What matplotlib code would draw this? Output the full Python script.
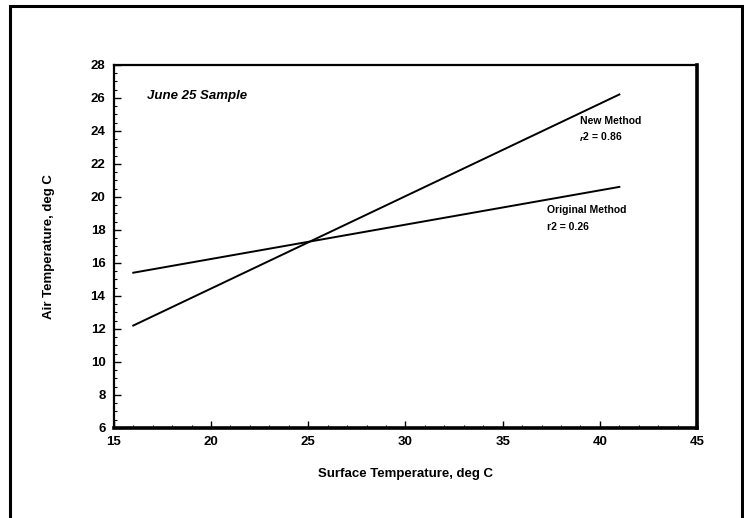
import numpy as np
import matplotlib.pyplot as plt
from matplotlib.patches import Rectangle
from matplotlib.ticker import MultipleLocator

plt.rcParams['font.family'] = ['Liberation Sans', 'DejaVu Sans']
plt.rcParams['font.weight'] = 'bold'

# fitted regression lines (end points)
surface_x = [16, 41]
new_method = [12.2, 26.2]
original_method = [15.4, 20.6]

xticks = [15, 20, 25, 30, 35, 40, 45]
yticks = [6, 8, 10, 12, 14, 16, 18, 20, 22, 24, 26, 28]

fig = plt.figure(figsize=(7.44, 5.18), dpi=100)
ax = fig.add_axes([0.153, 0.174, 0.784, 0.701])

ax.plot(surface_x, new_method, color='black', lw=1.4)
ax.plot(surface_x, original_method, color='black', lw=1.4)

ax.set_xlim(15, 45)
ax.set_ylim(6, 28)
ax.set_xticks(xticks)
ax.set_yticks(yticks)
ax.xaxis.set_minor_locator(MultipleLocator(1))
ax.yaxis.set_minor_locator(MultipleLocator(0.5))
ax.tick_params(which='major', direction='in', length=5, width=1, labelsize=9.5, pad=6)
ax.tick_params(which='minor', direction='in', length=2.5, width=0.8)
for lab in ax.get_xticklabels() + ax.get_yticklabels():
    lab.set_fontweight('bold')

for side in ['top', 'left']:
    ax.spines[side].set_linewidth(1.6)
for side in ['bottom', 'right']:
    ax.spines[side].set_linewidth(2.6)

ax.set_xlabel('Surface Temperature, deg C', fontsize=9.5, fontweight='bold', labelpad=14)
ax.set_ylabel('Air Temperature, deg C', fontsize=9.5, fontweight='bold', labelpad=26)

ax.text(16.7, 25.9, 'June 25 Sample', fontsize=9.5, fontweight='bold', style='italic')
ax.text(39.0, 24.4, 'New Method', fontsize=7.5, fontweight='bold')
ax.text(38.9, 23.4, '$_{r}$2 = 0.86', fontsize=7.5, fontweight='bold')
ax.text(37.3, 19.0, 'Original Method', fontsize=7.5, fontweight='bold')
ax.text(37.3, 18.0, 'r2 = 0.26', fontsize=7.5, fontweight='bold')

# outer frame around the whole figure
fig.patches.append(Rectangle((0.014, -0.05), 0.983, 1.038, transform=fig.transFigure,
                             fill=False, edgecolor='black', linewidth=2.2))

fig.savefig('out.png', dpi=100)
